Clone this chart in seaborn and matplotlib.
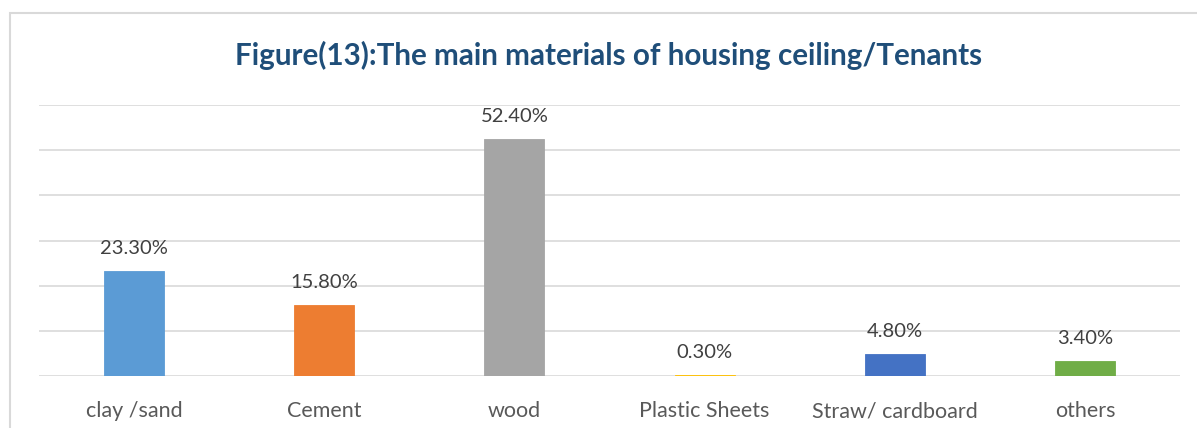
import matplotlib
matplotlib.use("Agg")
import matplotlib.pyplot as plt
from matplotlib.patches import Rectangle
import seaborn as sns
import pandas as pd

categories = ["clay /sand", "Cement", "wood", "Plastic Sheets", "Straw/ cardboard", "others"]
values = [23.3, 15.8, 52.4, 0.3, 4.8, 3.4]
colors = ["#5B9BD5", "#ED7D31", "#A5A5A5", "#FFC000", "#4472C4", "#70AD47"]
title = "Figure(13):The main materials of housing ceiling/Tenants"

sns.set_theme(style="white")
plt.rcParams["font.family"] = ["Lato", "DejaVu Sans"]

df = pd.DataFrame({"material": categories, "share": values})

W, H = 1197, 428
fig = plt.figure(figsize=(W / 100, H / 100), dpi=100)
ax = fig.add_axes([39 / W, 1 - 376 / H, (1180 - 39) / W, (376 - 105) / H])

sns.barplot(data=df, x="material", y="share", hue="material", palette=colors,
            order=categories, hue_order=categories, width=0.315, legend=False,
            saturation=1, ax=ax)
for p, c in zip(ax.patches, colors):
    p.set_edgecolor(c)
    p.set_linewidth(0.6)
    p.set_zorder(3)

ax.set_ylim(0, 60)
ax.set_xlim(-0.5, len(categories) - 0.5)
ax.set_yticks(range(0, 61, 10))
ax.yaxis.grid(True, color="#D9D9D9", linewidth=1.2)
ax.set_axisbelow(True)
ax.tick_params(axis="y", left=False, labelleft=False)
ax.tick_params(axis="x", bottom=False, labelsize=15.5, labelcolor="#595959", pad=12)
ax.set_xlabel("")
ax.set_ylabel("")
for s in ax.spines.values():
    s.set_visible(False)

for i, v in enumerate(values):
    ax.annotate(f"{v:.2f}%", (i, v), xytext=(0, 10), textcoords="offset points",
                ha="center", va="bottom", fontsize=14.5, color="#404040")

fig.text(609 / W, 1 - 55 / H, title, ha="center", va="center",
         fontsize=21.3, fontweight="bold", color="#1F4E79")

# chart-area border
fig.add_artist(Rectangle((10 / W, -0.1), 1.2, 1 - 13 / H + 0.1, transform=fig.transFigure,
                         fill=False, edgecolor="#D9D9D9", linewidth=1.5))

fig.savefig("out.png", dpi=100, facecolor="white")
